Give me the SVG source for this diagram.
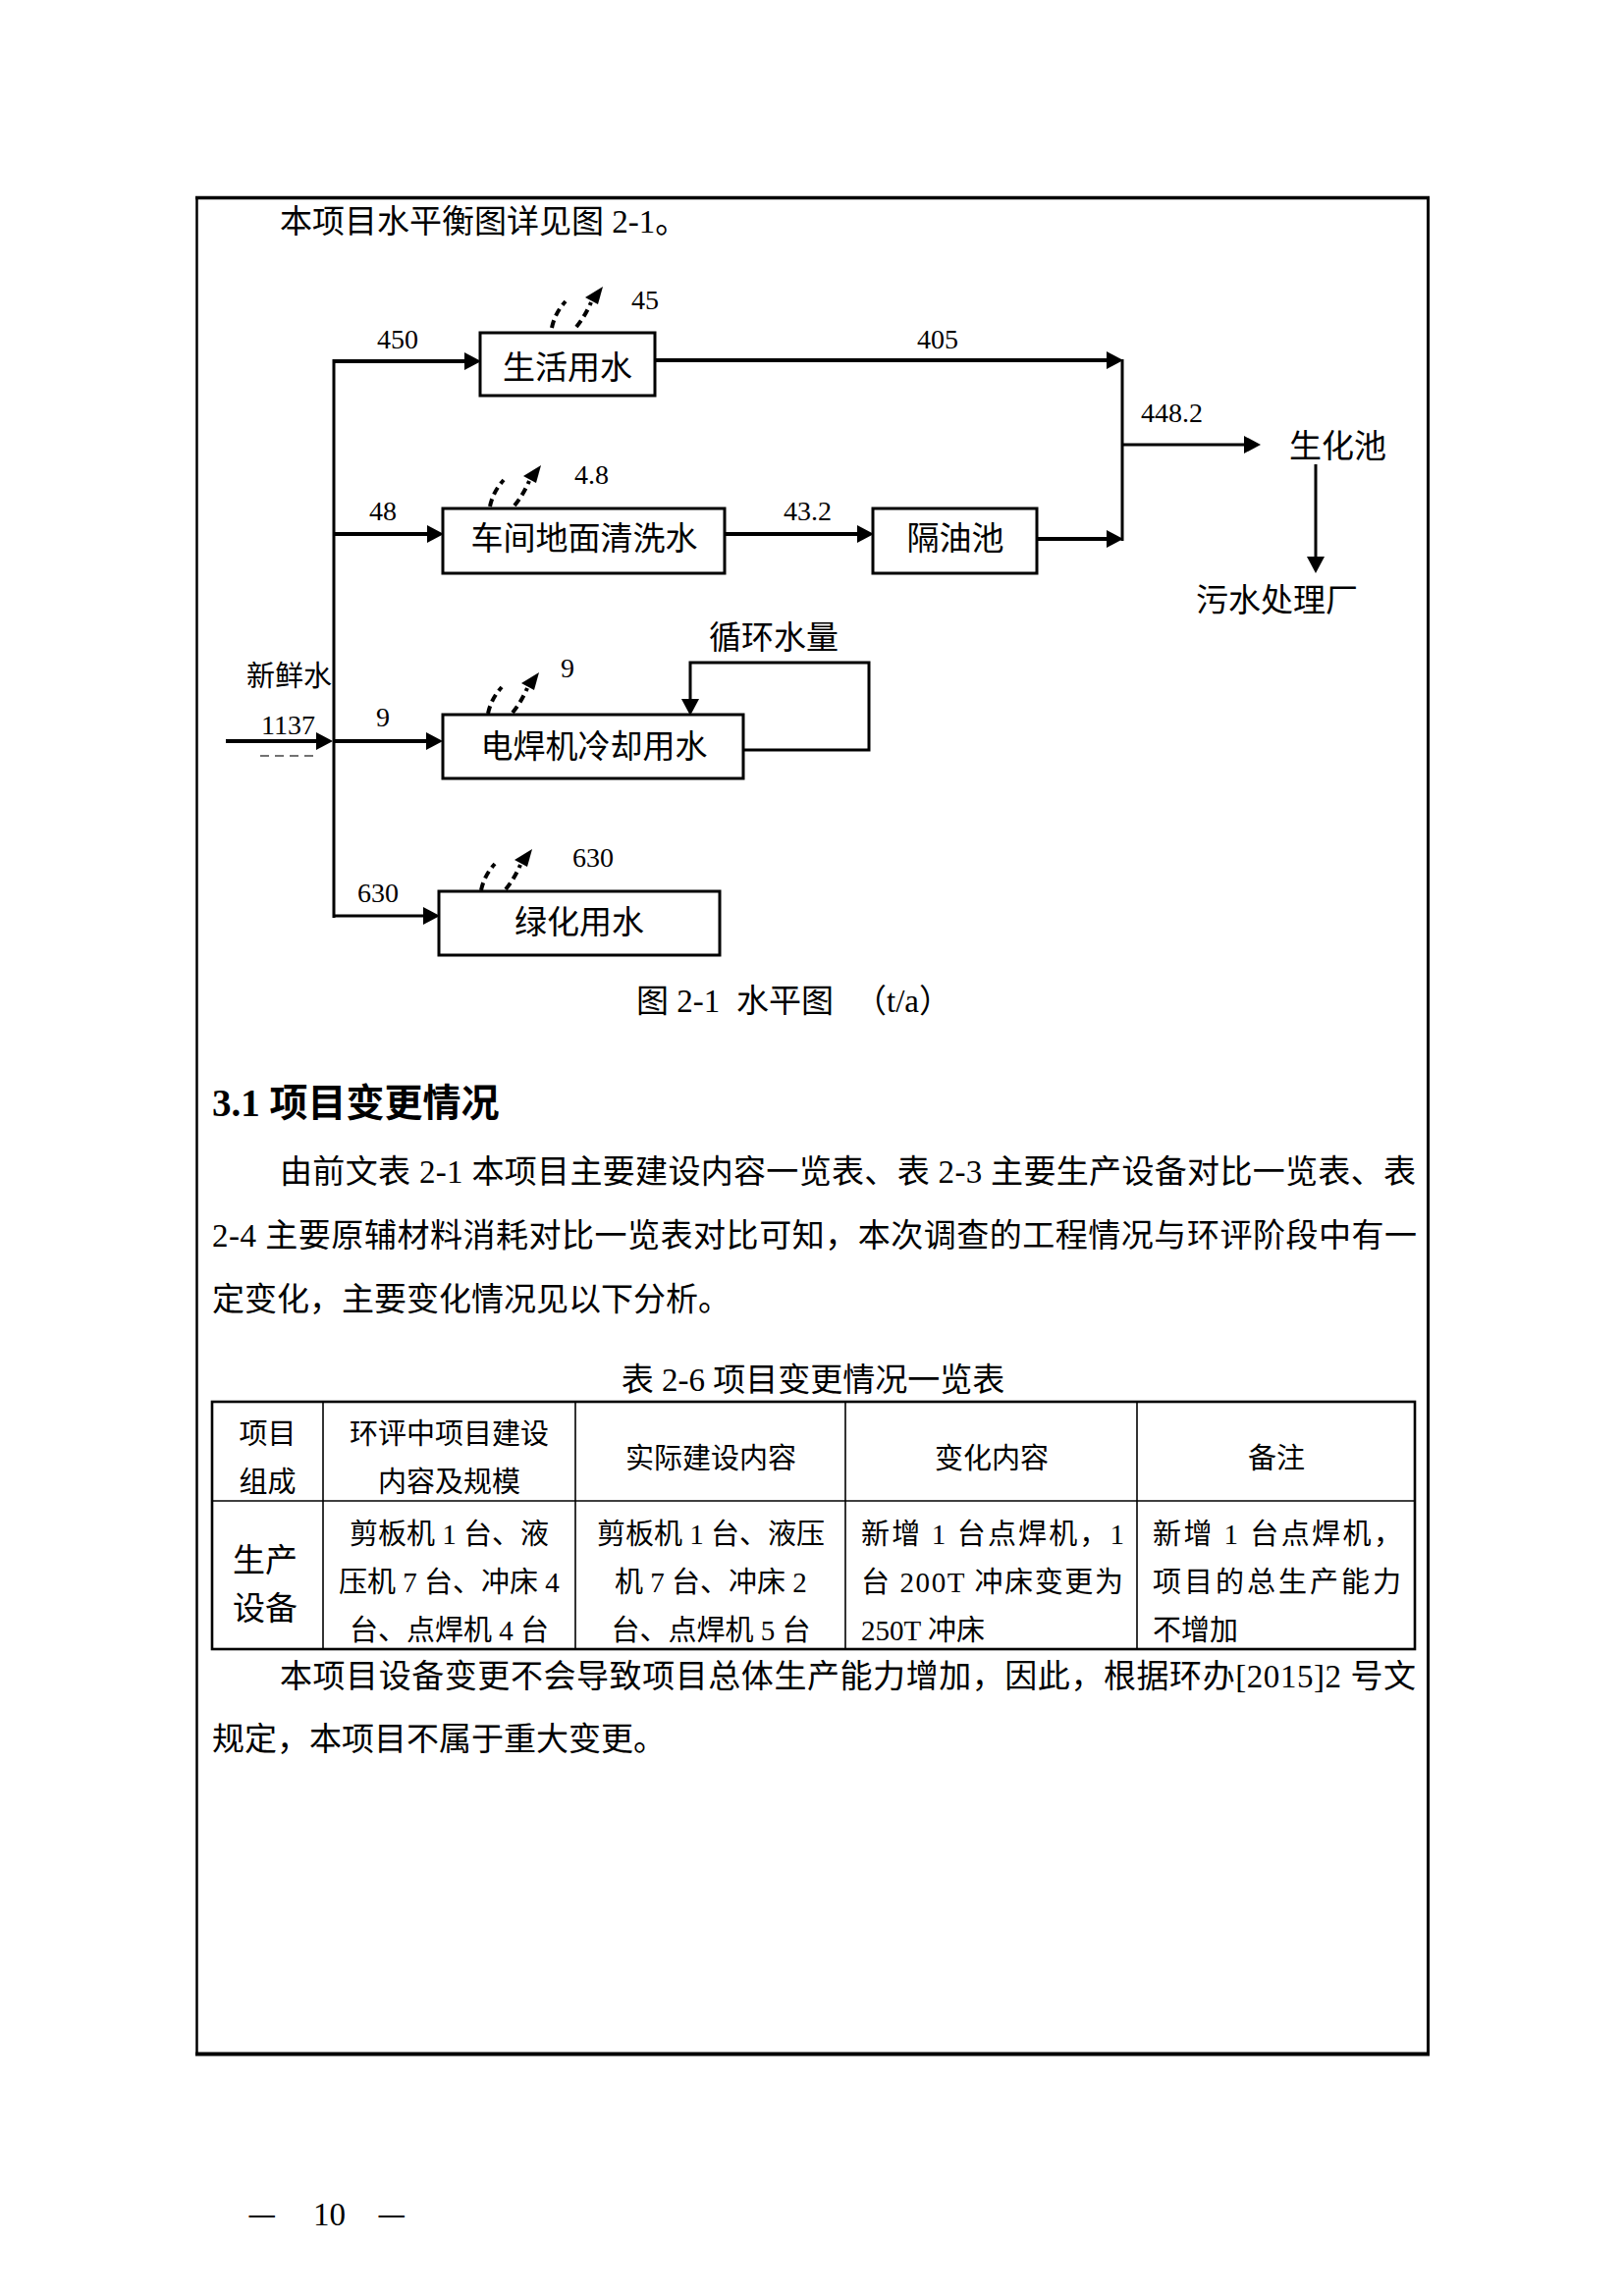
<svg xmlns="http://www.w3.org/2000/svg" width="1654" height="2339" viewBox="0 0 1654 2339">
<style>
  text { font-family: "Liberation Serif", "Noto Sans CJK SC", serif; fill: #000; }
  .body { font-size: 33px; }
  .head { font-size: 39px; font-weight: bold; }
  .lbl { font-size: 33px; }
  .num { font-size: 28px; }
  .cell { font-size: 29px; }
  .cellb { font-size: 33px; }
  .mid { text-anchor: middle; }
  .box { fill: #fff; stroke: #000; stroke-width: 3; }
  .ln { fill: none; stroke: #000; stroke-width: 4; }
  .ln3 { fill: none; stroke: #000; stroke-width: 3; }
  .arr { marker-end: url(#ah); }
  .grid { stroke: #000; stroke-width: 1.6; fill: none; }
  .dash { fill: none; stroke: #000; stroke-width: 4; stroke-dasharray: 8 5; }
  .frame { stroke: #000; fill: none; }
</style>
<defs>
  <marker id="ah" markerUnits="userSpaceOnUse" markerWidth="17" markerHeight="18" refX="8" refY="9" orient="auto">
    <path d="M0,0 L17,9 L0,18 z" fill="#000"/>
  </marker>
  <g id="evap">
    <path class="dash" d="M0,0 Q3,-15 14,-27"/>
    <path class="dash" d="M25,-1 Q34,-12 40,-26"/>
    <path d="M52,-42 L34,-31 L47,-24 z" fill="#000"/>
  </g>
</defs>
<rect width="1654" height="2339" fill="#fff"/>

<!-- page frame -->
<g id="page-frame">
  <line class="frame" x1="199" y1="201.5" x2="1456" y2="201.5" stroke-width="3.5"/>
  <line class="frame" x1="199" y1="2092.5" x2="1456" y2="2092.5" stroke-width="4"/>
  <line class="frame" x1="200.5" y1="200" x2="200.5" y2="2094" stroke-width="2.5"/>
  <line class="frame" x1="1454.5" y1="200" x2="1454.5" y2="2094" stroke-width="3"/>
</g>

<text id="intro" class="body" x="285" y="237">本项目水平衡图详见图 2-1。</text>

<!-- connectors -->
<g id="connectors">
  <path class="ln arr" d="M230,755 H330"/>
  <path class="ln3" d="M340,366 V935"/>
  <path class="ln arr" d="M340,368 H481"/>
  <path class="ln arr" d="M340,544 H443"/>
  <path class="ln arr" d="M340,755 H442"/>
  <path class="ln3 arr" d="M340,933 H439"/>
  <path class="ln arr" d="M667,367 H1135"/>
  <path class="ln arr" d="M738,544 H881"/>
  <path class="ln arr" d="M1056,549 H1135"/>
  <path class="ln3" d="M1143,366 V551"/>
  <path class="ln3 arr" d="M1143,453 H1275"/>
  <path class="ln3 arr" d="M1340,473 V575"/>
  <path class="ln3 arr" d="M757,764 H885 V675 H703 V720"/>
  <use href="#evap" x="562" y="334"/>
  <use href="#evap" x="499" y="516"/>
  <use href="#evap" x="497" y="727"/>
  <use href="#evap" x="490" y="907"/>
  <text class="num" x="384" y="355">450</text>
  <text class="num" x="643" y="315">45</text>
  <text class="num" x="934" y="355">405</text>
  <text class="num" x="1162" y="430">448.2</text>
  <text class="num" x="376" y="530">48</text>
  <text class="num" x="585" y="493">4.8</text>
  <text class="num" x="798" y="530">43.2</text>
  <text class="num" x="383" y="740">9</text>
  <text class="num" x="571" y="690">9</text>
  <text class="num" x="364" y="919">630</text>
  <text class="num" x="583" y="883">630</text>
  <text class="lbl" x="722" y="661">循环水量</text>
</g>

<!-- nodes -->
<g id="fresh-water">
  <text class="lbl" x="251" y="699" style="font-size:29px">新鲜水</text>
  <text class="num" x="266" y="748">1137</text>
  <line x1="265" y1="770" x2="322" y2="770" stroke="#444" stroke-width="1.5" stroke-dasharray="9 6"/>
</g>
<g id="node-living">
  <rect class="box" x="489" y="339" width="178" height="64"/>
  <text class="lbl mid" x="578" y="386">生活用水</text>
</g>
<g id="node-floor">
  <rect class="box" x="451" y="518" width="287" height="66"/>
  <text class="lbl mid" x="595" y="560">车间地面清洗水</text>
</g>
<g id="node-oil">
  <rect class="box" x="889" y="518" width="167" height="66"/>
  <text class="lbl mid" x="973" y="560">隔油池</text>
</g>
<g id="node-welder">
  <rect class="box" x="451" y="728" width="306" height="65"/>
  <text class="lbl mid" x="605" y="772">电焊机冷却用水</text>
</g>
<g id="node-green">
  <rect class="box" x="447" y="908" width="286" height="65"/>
  <text class="lbl mid" x="590" y="951">绿化用水</text>
</g>
<g id="node-bio">
  <text class="lbl" x="1313" y="466">生化池</text>
</g>
<g id="node-plant">
  <text class="lbl" x="1218" y="623">污水处理厂</text>
</g>

<text id="caption" class="body" x="648" y="1031"><tspan>图 2-1</tspan><tspan x="750">水平图</tspan><tspan x="870">（t/a）</tspan></text>

<!-- section text -->
<text id="heading" class="head" x="216" y="1137">3.1 项目变更情况</text>
<g id="para1" class="body">
  <text x="285" y="1205" textLength="1157" lengthAdjust="spacing">由前文表 2-1 本项目主要建设内容一览表、表 2-3 主要生产设备对比一览表、表</text>
  <text x="216" y="1270" textLength="1227" lengthAdjust="spacing">2-4 主要原辅材料消耗对比一览表对比可知，本次调查的工程情况与环评阶段中有一</text>
  <text x="216" y="1335">定变化，主要变化情况见以下分析。</text>
</g>

<text id="table-title" class="body mid" x="828" y="1417">表 2-6  项目变更情况一览表</text>

<g id="table">
  <rect x="216" y="1428" width="1225" height="252" fill="none" stroke="#000" stroke-width="2.6"/>
  <line class="grid" x1="216" y1="1529" x2="1441" y2="1529"/>
  <line class="grid" x1="329" y1="1428" x2="329" y2="1680"/>
  <line class="grid" x1="586" y1="1428" x2="586" y2="1680"/>
  <line class="grid" x1="861" y1="1428" x2="861" y2="1680"/>
  <line class="grid" x1="1158" y1="1428" x2="1158" y2="1680"/>

  <text class="cell mid" x="272.5" y="1471">项目</text>
  <text class="cell mid" x="272.5" y="1520">组成</text>
  <text class="cell mid" x="457.5" y="1471">环评中项目建设</text>
  <text class="cell mid" x="457.5" y="1520">内容及规模</text>
  <text class="cell mid" x="724" y="1496">实际建设内容</text>
  <text class="cell mid" x="1010" y="1496">变化内容</text>
  <text class="cell mid" x="1300" y="1496">备注</text>

  <text class="cellb mid" x="270" y="1601">生产</text>
  <text class="cellb mid" x="270" y="1650">设备</text>

  <text class="cell mid" x="457.5" y="1573">剪板机 1 台、液</text>
  <text class="cell mid" x="457.5" y="1622">压机 7 台、冲床 4</text>
  <text class="cell mid" x="457.5" y="1671">台、点焊机 4 台</text>

  <text class="cell mid" x="724" y="1573">剪板机 1 台、液压</text>
  <text class="cell mid" x="724" y="1622">机 7 台、冲床 2</text>
  <text class="cell mid" x="724" y="1671">台、点焊机 5 台</text>

  <text class="cell" x="877" y="1573" textLength="268" lengthAdjust="spacing">新增 1 台点焊机，1</text>
  <text class="cell" x="877" y="1622" textLength="267" lengthAdjust="spacing">台 200T 冲床变更为</text>
  <text class="cell" x="877" y="1671">250T 冲床</text>

  <text class="cell" x="1174" y="1573" textLength="254" lengthAdjust="spacing">新增 1 台点焊机，</text>
  <text class="cell" x="1174" y="1622" textLength="253" lengthAdjust="spacing">项目的总生产能力</text>
  <text class="cell" x="1174" y="1671">不增加</text>
</g>

<g id="para2" class="body">
  <text x="285" y="1719" textLength="1157" lengthAdjust="spacing">本项目设备变更不会导致项目总体生产能力增加，因此，根据环办[2015]2 号文</text>
  <text x="216" y="1783">规定，本项目不属于重大变更。</text>
</g>

<g id="page-number" class="body">
  <text y="2267"><tspan x="252" style="font-family:'Noto Sans CJK SC',sans-serif">—</tspan><tspan x="319">10</tspan><tspan x="384" style="font-family:'Noto Sans CJK SC',sans-serif">—</tspan></text>
</g>
</svg>
